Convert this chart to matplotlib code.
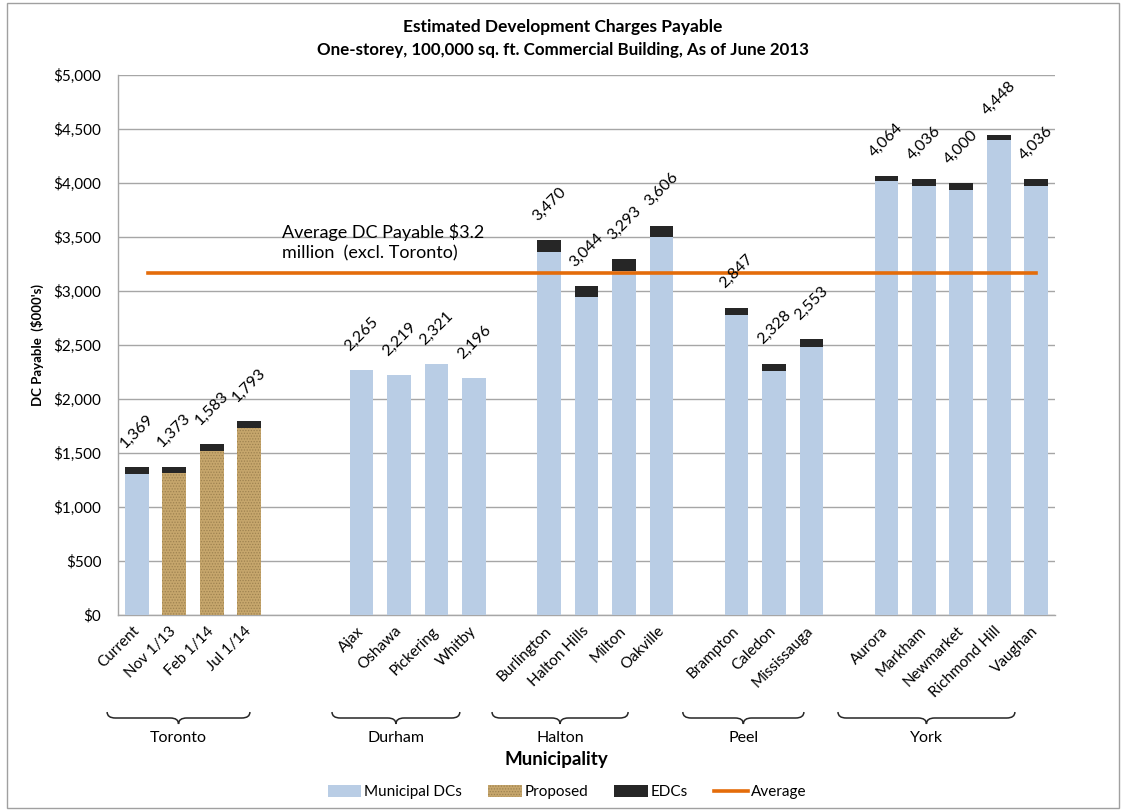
import numpy as np
import matplotlib
matplotlib.use("Agg")
import matplotlib.pyplot as plt
from matplotlib.path import Path
from matplotlib.patches import PathPatch, Patch, Rectangle
from matplotlib.lines import Line2D

plt.rcParams['font.family'] = ['Lato', 'DejaVu Sans']
plt.rcParams['hatch.linewidth'] = 0.6

# DC payable per municipality ($000's)
groups = ["Toronto", "Durham", "Halton", "Peel", "York"]
group_members = [
    ["Current", "Nov 1/13", "Feb 1/14", "Jul 1/14"],
    ["Ajax", "Oshawa", "Pickering", "Whitby"],
    ["Burlington", "Halton Hills", "Milton", "Oakville"],
    ["Brampton", "Caledon", "Mississauga"],
    ["Aurora", "Markham", "Newmarket", "Richmond Hill", "Vaughan"],
]
totals = [1369, 1373, 1583, 1793,
          2265, 2219, 2321, 2196,
          3470, 3044, 3293, 3606,
          2847, 2328, 2553,
          4064, 4036, 4000, 4448, 4036]
edcs = [62, 62, 62, 62,
        0, 0, 0, 0,
        105, 100, 105, 105,
        72, 72, 70,
        43, 62, 62, 46, 62]
proposed = [False, True, True, True] + [False] * 16
avg_value = 3170

# slot positions: two empty slots after Toronto, one between the other regions
gaps = [2, 1, 1, 1]
xpos = []
pos = 0
for gi, members in enumerate(group_members):
    for _ in members:
        xpos.append(pos)
        pos += 1
    if gi < len(gaps):
        pos += gaps[gi]
xpos = np.array(xpos)
labels = [m for members in group_members for m in members]
totals = np.array(totals)
edcs = np.array(edcs)
municipal = totals - edcs

blue = "#B9CDE5"
tan = "#C6A66C"
black = "#262626"
orange = "#E46C0A"
grid_c = "#A6A6A6"

fig = plt.figure(figsize=(11.24, 8.10), dpi=100)
fig.patches.append(Rectangle((7 / 1124, 2 / 810), 1112 / 1124, 805 / 810,
                             transform=fig.transFigure, fill=False,
                             edgecolor="#A0A0A0", lw=1))
ax = fig.add_axes([118 / 1124, 1 - 615 / 810, 937 / 1124, 540 / 810])

width = 0.63
for x, m, e, p in zip(xpos, municipal, edcs, proposed):
    if p:
        ax.bar(x, m, width, color=tan, edgecolor="#9E8250", linewidth=0,
               hatch="......", zorder=3)
    else:
        ax.bar(x, m, width, color=blue, linewidth=0, zorder=3)
    if e > 0:
        ax.bar(x, e, width, bottom=m, color=black, linewidth=0, zorder=3)

for x, t in zip(xpos, totals):
    ax.text(x, t + 335, f"{t:,}", rotation=45, ha="center", va="center",
            fontsize=11.5, color="black", zorder=5)

ax.plot([0.3, 24.0], [avg_value, avg_value], color=orange, lw=2.6, zorder=4)
ax.text(3.87, 3450, "Average DC Payable $3.2\nmillion  (excl. Toronto)",
        fontsize=13, ha="left", va="center", linespacing=1.3, zorder=5)

ax.set_xlim(-0.5, 24.5)
ax.set_ylim(0, 5000)
ax.set_yticks(np.arange(0, 5001, 500))
ax.set_yticklabels([f"${v:,}" for v in range(0, 5001, 500)], fontsize=11)
ax.yaxis.grid(True, color=grid_c, lw=1)
ax.set_axisbelow(True)
ax.tick_params(axis="y", length=0, pad=12)
ax.set_xticks(xpos)
ax.set_xticklabels(labels, rotation=45, ha="right", va="center",
                   rotation_mode="anchor", fontsize=11)
ax.tick_params(axis="x", length=0, pad=10)
for s in ["top", "right"]:
    ax.spines[s].set_visible(False)
for s in ["left", "bottom"]:
    ax.spines[s].set_color(grid_c)
    ax.spines[s].set_linewidth(1)

fig.text(37 / 1124, 1 - 345 / 810, "DC Payable  ($000's)", rotation=90,
         ha="center", va="center", fontsize=9.5, fontweight="bold")

fig.text(563 / 1124, 1 - 27 / 810, "Estimated Development Charges Payable",
         ha="center", va="center", fontsize=12.5, fontweight="bold")
fig.text(563 / 1124, 1 - 50 / 810,
         "One-storey, 100,000 sq. ft. Commercial Building, As of June 2013",
         ha="center", va="center", fontsize=12.2, fontweight="bold")

# curly braces under each region
brace_spans = [(-0.79, 3.02), (5.21, 8.62), (9.48, 13.11), (14.57, 17.8), (18.71, 23.43)]
trans = ax.get_xaxis_transform()
yb = (615 - 718) / 540
h = 6 / 540
w = 0.22
for (x0, x1), name in zip(brace_spans, groups):
    xm = (x0 + x1) / 2
    verts = [(x0, yb + h), (x0, yb), (x0 + w, yb),
             (xm - w, yb),
             (xm, yb), (xm, yb - h),
             (xm, yb), (xm + w, yb),
             (x1 - w, yb),
             (x1, yb), (x1, yb + h)]
    codes = [Path.MOVETO, Path.CURVE3, Path.CURVE3,
             Path.LINETO,
             Path.CURVE3, Path.CURVE3,
             Path.CURVE3, Path.CURVE3,
             Path.LINETO,
             Path.CURVE3, Path.CURVE3]
    ax.add_patch(PathPatch(Path(verts, codes), transform=trans, fill=False,
                           edgecolor="#262626", lw=1.1, clip_on=False))
    ax.text(xm, (615 - 738) / 540, name, transform=trans, ha="center",
            va="center", fontsize=11.5, clip_on=False)

fig.text(556 / 1124, 1 - 760 / 810, "Municipality", ha="center", va="center",
         fontsize=13.5, fontweight="bold")

handles = [Patch(facecolor=blue, linewidth=0),
           Patch(facecolor=tan, edgecolor="#9E8250", linewidth=0, hatch="......"),
           Patch(facecolor=black, linewidth=0),
           Line2D([0], [0], color=orange, lw=2.6)]
fig.legend(handles, ["Municipal DCs", "Proposed", "EDCs", "Average"],
           loc="center", bbox_to_anchor=(567 / 1124, 1 - 792 / 810), ncol=4,
           frameon=False, fontsize=11, handlelength=2.2, handleheight=0.9,
           handletextpad=0.2, columnspacing=1.7)

fig.savefig("out.png", dpi=100)
